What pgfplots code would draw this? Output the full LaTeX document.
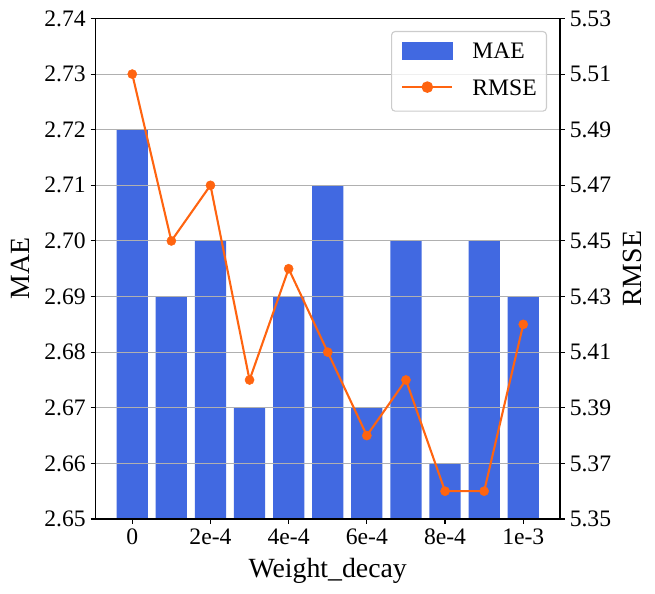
\documentclass[border=0pt]{standalone}
\usepackage{pgfplots}
\pgfplotsset{compat=1.18}
\usepackage{fontspec}
\setmainfont{Liberation Serif}
\definecolor{barblue}{HTML}{4169E1}
\definecolor{lineorange}{HTML}{FF6410}
\definecolor{gridgray}{HTML}{B0B0B0}
\definecolor{legendgray}{HTML}{CCCCCC}
\newcommand{\tickfont}{\fontsize{17}{20}\selectfont}
\newcommand{\labelfont}{\fontsize{20}{24}\selectfont}
\pgfplotsset{
  mybase/.style={
    scale only axis, width=334.44pt, height=360.36pt,
    at={(0,0)}, anchor=south west,
    xmin=-0.94, xmax=10.94,
    tick align=outside,
    major tick length=3.5pt,
    major tick style={black, line width=0.8pt},
    axis line style={line width=0.8pt, black},
    ticklabel style={font=\tickfont},
    /pgf/number format/assume math mode=true,
    label style={font=\labelfont},
  },
}
\begin{document}
\begin{tikzpicture}
\begin{axis}[mybase,
  ymin=2.65, ymax=2.74,
  ytick={2.65,2.66,2.67,2.68,2.69,2.70,2.71,2.72,2.73,2.74},
  ytick pos=left, xtick pos=bottom,
  xtick={0,2,4,6,8,10},
  xticklabels={0,2e-4,4e-4,6e-4,8e-4,1e-3},
  yticklabel style={/pgf/number format/fixed, /pgf/number format/fixed zerofill, /pgf/number format/precision=2},
  xlabel={Weight\_decay},
  ylabel={MAE},
  xlabel style={at={(axis description cs:0.5,-0.1159)}, anchor=base},
  ylabel style={at={(axis description cs:-0.1425,0.5)}, anchor=base},
]
\addplot[ybar, bar width=0.8, bar shift=0pt, fill=barblue, draw=none] coordinates {
  (0,2.72) (1,2.69) (2,2.70) (3,2.67) (4,2.69) (5,2.71) (6,2.67) (7,2.70) (8,2.66) (9,2.70) (10,2.69)
};
\end{axis}
\begin{axis}[mybase,
  ymin=5.35, ymax=5.53,
  ytick={5.35,5.37,5.39,5.41,5.43,5.45,5.47,5.49,5.51,5.53},
  ytick pos=right, yticklabel pos=right,
  xtick=\empty,
  ymajorgrids, grid style={gridgray, line width=0.8pt},
  yticklabel style={/pgf/number format/fixed, /pgf/number format/fixed zerofill, /pgf/number format/precision=2},
  ylabel={RMSE},
  ylabel style={at={(axis description cs:1.1765,0.5)}, anchor=base},
  legend style={at={(rel axis cs:1,1)}, anchor=north east, xshift=-9.36pt, yshift=-9pt,
    draw=legendgray, line width=0.8pt, rounded corners=2.5pt,
    fill=white, fill opacity=0.8, text opacity=1, font=\tickfont,
    inner xsep=7pt, inner ysep=7.4pt, row sep=10.45pt, column sep=13.7pt,
    nodes={inner sep=0pt, text height=11.5pt, text depth=4.15pt}},
  legend cell align=left,
  legend style={cells={anchor=base west}},
]
\addlegendimage{legend image code/.code={\fill[barblue, fill opacity=1, sharp corners] (0pt,-0.35pt) rectangle (36pt,11.85pt);}}
\addlegendentry{MAE}
\addplot[color=lineorange, line width=1.5pt, mark=*, mark size=3.3pt,
  mark options={solid, fill=lineorange, draw=lineorange, line width=0.3pt},
  legend image code/.code={\draw[lineorange, line width=1.5pt, draw opacity=1, sharp corners] (0pt,5.75pt) -- (36pt,5.75pt); \fill[lineorange, fill opacity=1] (18pt,5.75pt) circle (3.4pt);}]
coordinates {
  (0,5.51) (1,5.45) (2,5.47) (3,5.40) (4,5.44) (5,5.41) (6,5.38) (7,5.40) (8,5.36) (9,5.36) (10,5.42)
};
\addlegendentry{RMSE}
\end{axis}
\pgfresetboundingbox
\path[use as bounding box] (-68.76pt,-54pt) rectangle (402.84pt,373.68pt);
\end{tikzpicture}
\end{document}
